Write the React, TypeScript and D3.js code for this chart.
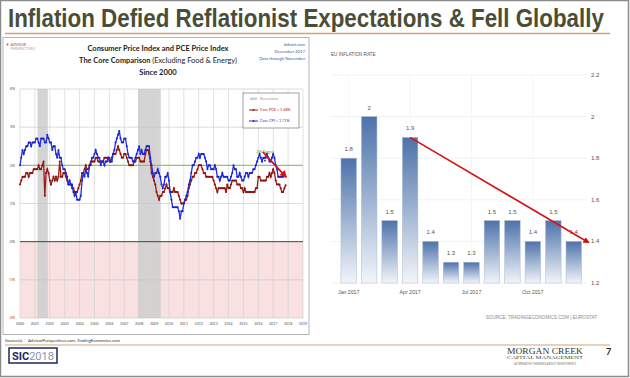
import React, { useRef, useLayoutEffect, useState } from 'react';
import * as d3 from 'd3';

// ---------- data ----------
const yearLabels = ['2000','2001','2002','2003','2004','2005','2006','2007','2008','2009','2010','2011','2012','2013','2014','2015','2016','2017','2018','2019'];
const leftTicks = [4, 3, 2, 1, 0, -1, -2];
const recessions = [[2001.17, 2001.87], [2007.92, 2009.45]];

const coreCPI = [
  2.0,2.2,2.4,2.3,2.4,2.5,2.5,2.6,2.6,2.5,2.6,2.6,
  2.6,2.7,2.7,2.6,2.5,2.7,2.7,2.7,2.6,2.6,2.8,2.7,
  2.6,2.6,2.4,2.5,2.5,2.3,2.2,2.4,2.2,2.2,2.0,1.9,
  1.9,1.8,1.7,1.5,1.6,1.5,1.5,1.3,1.2,1.3,1.1,1.1,
  1.1,1.2,1.6,1.8,1.7,1.9,1.8,1.7,2.0,2.0,2.2,2.2,
  2.3,2.4,2.3,2.2,2.2,2.0,2.1,2.1,2.0,2.1,2.1,2.2,
  2.1,2.1,2.1,2.3,2.4,2.6,2.7,2.8,2.9,2.7,2.6,2.6,
  2.7,2.7,2.5,2.3,2.2,2.2,2.2,2.1,2.1,2.2,2.3,2.4,
  2.5,2.3,2.4,2.3,2.3,2.4,2.5,2.5,2.5,2.2,2.0,1.8,
  1.7,1.8,1.8,1.9,1.8,1.7,1.5,1.4,1.5,1.7,1.7,1.8,
  1.6,1.3,1.1,0.9,0.9,0.9,0.9,0.9,0.8,0.6,0.8,0.8,
  1.0,1.1,1.2,1.3,1.5,1.6,1.8,2.0,2.0,2.1,2.2,2.2,
  2.3,2.2,2.3,2.3,2.3,2.2,2.1,1.9,2.0,2.0,1.9,1.9,
  1.9,2.0,1.9,1.7,1.7,1.6,1.7,1.8,1.7,1.7,1.7,1.7,
  1.6,1.6,1.7,1.8,2.0,1.9,1.9,1.7,1.7,1.8,1.7,1.6,
  1.6,1.7,1.8,1.8,1.7,1.8,1.8,1.8,1.9,1.9,2.0,2.1,
  2.2,2.3,2.2,2.1,2.2,2.2,2.2,2.3,2.2,2.1,2.1,2.2,
  2.3,2.2,2.0,1.9,1.7,1.7,1.7,1.7,1.7,1.8,1.71,
];
const corePCE = [
  1.5,1.6,1.7,1.7,1.7,1.8,1.8,1.7,1.8,1.8,1.8,1.9,
  1.9,1.9,1.9,2.0,1.9,1.9,2.0,2.1,1.2,1.8,1.9,1.8,
  1.6,1.5,1.6,1.7,1.6,1.7,1.6,1.7,2.1,1.7,1.7,1.8,
  1.8,1.7,1.6,1.5,1.5,1.5,1.4,1.4,1.3,1.3,1.3,1.4,
  1.5,1.6,1.8,1.8,1.9,2.0,1.9,1.9,2.0,2.1,2.1,2.1,
  2.1,2.2,2.2,2.1,2.1,2.1,2.1,2.1,2.2,2.2,2.2,2.2,
  2.2,2.1,2.2,2.3,2.3,2.3,2.4,2.5,2.4,2.3,2.2,2.2,
  2.3,2.3,2.2,2.1,2.0,2.0,2.0,2.0,2.1,2.1,2.2,2.2,
  2.2,2.1,2.1,2.1,2.1,2.3,2.4,2.4,2.3,2.1,1.8,1.7,
  1.6,1.5,1.3,1.2,1.1,1.2,1.2,1.3,1.3,1.4,1.5,1.4,
  1.4,1.3,1.3,1.3,1.4,1.3,1.3,1.3,1.2,1.1,1.0,1.0,
  1.0,1.1,1.1,1.2,1.4,1.5,1.6,1.7,1.7,1.8,1.8,1.9,
  2.0,2.0,2.0,1.9,1.8,1.8,1.7,1.7,1.7,1.7,1.7,1.7,
  1.6,1.5,1.4,1.3,1.4,1.4,1.4,1.4,1.4,1.4,1.3,1.5,
  1.4,1.4,1.5,1.6,1.6,1.6,1.6,1.5,1.5,1.5,1.4,1.4,
  1.3,1.4,1.3,1.3,1.3,1.3,1.3,1.3,1.3,1.3,1.4,1.4,
  1.7,1.7,1.6,1.6,1.6,1.6,1.6,1.7,1.7,1.8,1.7,1.8,
  1.9,1.8,1.6,1.5,1.5,1.5,1.4,1.3,1.3,1.4,1.48,
];
const leftTrend = [[2016.3, 2.35], [2017.85, 1.7]];

const euMonths = ['Jan','Feb','Mar','Apr','May','Jun','Jul','Aug','Sep','Oct','Nov','Dec'];
const euValues = [1.8, 2.0, 1.5, 1.9, 1.4, 1.3, 1.3, 1.5, 1.5, 1.4, 1.5, 1.4];
const euLabels = ['1.8','2','1.5','1.9','1.4','1.3','1.3','1.5','1.5','1.4','1.5','1.4'];
const euTicks = [2.2, 2.0, 1.8, 1.6, 1.4, 1.2];
const euTickLabels = ['2.2','2','1.8','1.6','1.4','1.2'];
const euXLabels = [['Jan','Jan 2017'], ['Apr','Apr 2017'], ['Jul','Jul 2017'], ['Oct','Oct 2017']];
const euTrend = [1.9, 1.395];

const TITLE = 'Inflation Defied Reflationist Expectations & Fell Globally';

// ---------- component ----------
export default function App() {
  const titleRef = useRef<SVGTextElement>(null);
  const [sx, setSx] = useState(1);
  useLayoutEffect(() => {
    if (titleRef.current) {
      const w = titleRef.current.getComputedTextLength();
      if (w > 0) setSx(596 / w);
    }
  }, []);

  const xL = d3.scaleLinear().domain([2000, 2019]).range([20, 303]);
  const yL = d3.scaleLinear().domain([-2, 4]).range([318, 89]);
  const tOf = (i: number) => 2000 + i / 12;

  const lineGen = d3.line<number>().x((d, i) => xL(tOf(i))).y(d => yL(d));

  const xR = d3.scaleBand<string>().domain(euMonths).range([338.5, 584]).paddingInner(0.24).paddingOuter(0.12);
  const yR = d3.scaleLinear().domain([1.2, 2.2]).range([283, 75]);
  const bw = xR.bandwidth();

  const narrow = '"Liberation Sans Narrow", "Arial Narrow", "Liberation Sans", sans-serif';
  const lato = 'Lato, "Open Sans", sans-serif';

  return (
    <svg width={630} height={378} style={{ position: 'absolute', left: 0, top: 0, background: '#fff' }}>
      <defs>
        <linearGradient id="barg" x1="0" y1="0" x2="0" y2="1">
          <stop offset="0" stopColor="#4d72aa" />
          <stop offset="1" stopColor="#f2f5fa" />
        </linearGradient>
        <marker id="arrR" viewBox="0 0 10 10" refX="8" refY="5" markerWidth="4" markerHeight="4" orient="auto">
          <path d="M0,0 L10,5 L0,10 z" fill="#d41313" />
        </marker>
        <marker id="arrG" viewBox="0 0 10 10" refX="8" refY="5" markerWidth="5" markerHeight="5" orient="auto">
          <path d="M0,0 L10,5 L0,10 z" fill="#333" />
        </marker>
      </defs>
      <rect x={0} y={0} width={630} height={378} fill="#fff" />
      <rect x={0.5} y={0.5} width={628} height={376} fill="none" stroke="#8c8c8c" strokeWidth={1.5} />

      {/* main title */}
      <g transform={`translate(8,27) scale(${sx},1)`}>
        <text ref={titleRef} x={0} y={0} fontFamily={narrow} fontWeight="bold" fontSize={25} fill="#4a4e37">{TITLE}</text>
      </g>
      <line x1={5} x2={610} y1={33.5} y2={33.5} stroke="#c9a47e" strokeWidth={1.5} />

      {/* ---------- left panel ---------- */}
      <rect x={3} y={37.5} width={306} height={297} fill="#fff" stroke="#b5b5b5" strokeWidth={1} />
      {/* logo */}
      <text x={6} y={46} fontFamily={lato} fontSize={5} fill="#b03a2e" fontWeight="bold">+</text>
      <text x={10.5} y={45.5} fontFamily={lato} fontSize={3.6} fill="#a0453a">ADVISOR</text>
      <text x={10.5} y={49.5} fontFamily={lato} fontSize={3.6} fill="#c99a93">PERSPECTIVES</text>
      {/* header */}
      <text x={158} y={51} textAnchor="middle" fontFamily={lato} fontWeight="bold" fontSize={7.6} fill="#222" textLength={141} lengthAdjust="spacingAndGlyphs">Consumer Price Index and PCE Price Index</text>
      <text x={158} y={63} textAnchor="middle" fontFamily={lato} fontSize={7.6} fill="#222" textLength={158} lengthAdjust="spacingAndGlyphs">
        <tspan fontWeight="bold">The Core Comparison </tspan><tspan>(Excluding Food &amp; Energy)</tspan>
      </text>
      <text x={158} y={75} textAnchor="middle" fontFamily={lato} fontWeight="bold" fontSize={7.6} fill="#222">Since 2000</text>
      <text x={305} y={46} textAnchor="end" fontFamily={lato} fontSize={4.3} fill="#3858a8">dshort.com</text>
      <text x={305} y={53} textAnchor="end" fontFamily={lato} fontSize={4.3} fill="#3858a8">December 2017</text>
      <text x={305} y={60} textAnchor="end" fontFamily={lato} fontSize={4.3} fill="#3858a8">Data through November</text>

      {/* negative zone */}
      <rect x={xL(2000)} y={yL(0)} width={xL(2019) - xL(2000)} height={yL(-2) - yL(0)} fill="#f9e1e2" />
      {/* recessions */}
      {recessions.map((r, i) => (
        <rect key={i} x={xL(r[0])} y={yL(4)} width={xL(r[1]) - xL(r[0])} height={yL(-2) - yL(4)} fill="#cfcfcf" opacity={0.9} />
      ))}
      {/* grid */}
      {yearLabels.map((y) => (
        <line key={y} x1={xL(+y)} x2={xL(+y)} y1={yL(4)} y2={yL(-2)} stroke="#cfcfcf" strokeWidth={0.6} />
      ))}
      {leftTicks.map(t => (
        <line key={t} x1={xL(2000)} x2={xL(2019)} y1={yL(t)} y2={yL(t)} stroke={t === 0 ? '#444' : '#c4c4c4'} strokeWidth={t === 0 ? 1 : 0.6} />
      ))}
      <line x1={xL(2000)} x2={xL(2019)} y1={yL(2)} y2={yL(2)} stroke="#7cc35e" strokeWidth={1} />
      {leftTicks.map(t => (
        <text key={t} x={15} y={yL(t) + 1.3} textAnchor="end" fontFamily={lato} fontSize={3.8} fill={t < 0 ? '#c0392b' : '#555'}>{t}%</text>
      ))}
      {yearLabels.map(y => (
        <text key={y} x={xL(+y)} y={325} textAnchor="middle" fontFamily={lato} fontSize={3.6} fill="#555">{y}</text>
      ))}

      {/* series */}
      <path d={lineGen(corePCE) || ''} fill="none" stroke="#9e1b13" strokeWidth={1.3} />
      {corePCE.map((v, i) => <circle key={'p' + i} cx={xL(tOf(i))} cy={yL(v)} r={1} fill="#8a1010" />)}
      <path d={lineGen(coreCPI) || ''} fill="none" stroke="#1f2fe8" strokeWidth={1.3} />
      {coreCPI.map((v, i) => <circle key={'c' + i} cx={xL(tOf(i))} cy={yL(v)} r={1} fill="#1a24c8" />)}

      {/* 2% target */}
      <text x={xL(2016.45)} y={yL(2.32)} textAnchor="middle" fontFamily={lato} fontSize={4} fill="#4f9a3a">2% Target</text>
      <line x1={xL(2016.45)} x2={xL(2016.45)} y1={yL(2.25)} y2={yL(2.1)} stroke="#333" strokeWidth={0.5} markerEnd="url(#arrG)" />

      {/* left trend arrow */}
      <line x1={xL(leftTrend[0][0])} y1={yL(leftTrend[0][1])} x2={xL(leftTrend[1][0])} y2={yL(leftTrend[1][1])} stroke="#d41313" strokeWidth={1.8} markerEnd="url(#arrR)" />

      {/* legend */}
      <rect x={243} y={93} width={56} height={35} fill="#fff" stroke="#8a8a8a" strokeWidth={0.8} />
      <rect x={250} y={97.5} width={7} height={2.5} fill="#cfcfcf" />
      <text x={260} y={100} fontFamily={lato} fontSize={3.8} fill="#999">Recessions</text>
      <line x1={249} x2={258} y1={110} y2={110} stroke="#9e1b13" strokeWidth={1} />
      <circle cx={253.5} cy={110} r={1} fill="#9e1b13" />
      <text x={260} y={111.3} fontFamily={lato} fontSize={3.8} fill="#b0221a">Core PCE = 1.48%</text>
      <line x1={249} x2={258} y1={121} y2={121} stroke="#1f2fe8" strokeWidth={1} />
      <circle cx={253.5} cy={121} r={1} fill="#1f2fe8" />
      <text x={260} y={122.3} fontFamily={lato} fontSize={3.8} fill="#1f2fe8">Core CPI = 1.71%</text>

      {/* ---------- right panel ---------- */}
      <text x={331} y={56} fontFamily={narrow} fontSize={4.6} fill="#555">EU INFLATION RATE</text>
      {euTicks.map(t => (
        <line key={t} x1={331} x2={587} y1={yR(t)} y2={yR(t)} stroke="#ececec" strokeWidth={0.7} />
      ))}
      {euXLabels.map(([m]) => (
        <line key={m} x1={(xR(m) || 0) + bw / 2} x2={(xR(m) || 0) + bw / 2} y1={yR(2.2)} y2={yR(1.2)} stroke="#f2f2f2" strokeWidth={0.7} />
      ))}
      {euTicks.map((t, i) => (
        <text key={t} x={591} y={yR(t) + 2} fontFamily={narrow} fontSize={6} fill="#555">{euTickLabels[i]}</text>
      ))}
      {euValues.map((v, i) => (
        <g key={i}>
          <rect x={xR(euMonths[i])} y={yR(v)} width={bw} height={yR(1.2) - yR(v)} fill="url(#barg)" stroke="#a9bad4" strokeWidth={0.5} />
          <text x={(xR(euMonths[i]) || 0) + bw / 2} y={yR(v) - 7} textAnchor="middle" fontFamily={narrow} fontSize={6} fill="#555">{euLabels[i]}</text>
        </g>
      ))}
      {euXLabels.map(([m, lab]) => (
        <text key={m} x={(xR(m) || 0) + bw / 2} y={294} textAnchor="middle" fontFamily={narrow} fontSize={5.2} fill="#555">{lab}</text>
      ))}
      <line x1={(xR('Apr') || 0) + bw / 2} y1={yR(euTrend[0])} x2={(xR('Dec') || 0) + bw + 7} y2={yR(euTrend[1])} stroke="#d41313" strokeWidth={1.6} markerEnd="url(#arrR)" />
      <text x={597} y={319} textAnchor="end" fontFamily={narrow} fontSize={4.6} fill="#8a8a8a">SOURCE: TRADINGECONOMICS.COM | EUROSTAT</text>

      {/* ---------- footer ---------- */}
      <text x={5} y={342} fontFamily={lato} fontSize={4.3} fill="#333">Source(s):</text>
      <text x={28} y={342} fontFamily={lato} fontSize={4.3} fill="#333">AdvisorPerspectives.com, TradingEconomics.com</text>
      <line x1={5} x2={610} y1={345} y2={345} stroke="#c9a47e" strokeWidth={1.2} />
      <rect x={9} y={348} width={48} height={15} fill="#fff" stroke="#1e2a5a" strokeWidth={1.5} />
      <text x={12} y={360} fontFamily="Roboto, sans-serif" fontSize={11} fill="#1e2a5a">
        <tspan fontWeight="bold">SIC</tspan><tspan fill="#8b93b0">2018</tspan>
      </text>
      <text x={545} y={354} textAnchor="middle" fontFamily='"Liberation Serif", serif' fontSize={9} fill="#333" textLength={76} lengthAdjust="spacingAndGlyphs">MORGAN CREEK</text>
      <text x={545} y={359} textAnchor="middle" fontFamily='"Liberation Serif", serif' fontSize={3.6} fill="#444" textLength={76} lengthAdjust="spacingAndGlyphs">CAPITAL MANAGEMENT</text>
      <text x={545} y={365} textAnchor="middle" fontFamily={lato} fontSize={2.8} fill="#777" textLength={62} lengthAdjust="spacingAndGlyphs">ALTERNATIVE THINKING ABOUT INVESTMENTS</text>
      <text x={606} y={355} fontFamily={lato} fontWeight="bold" fontSize={9} fill="#222">7</text>
    </svg>
  );
}
